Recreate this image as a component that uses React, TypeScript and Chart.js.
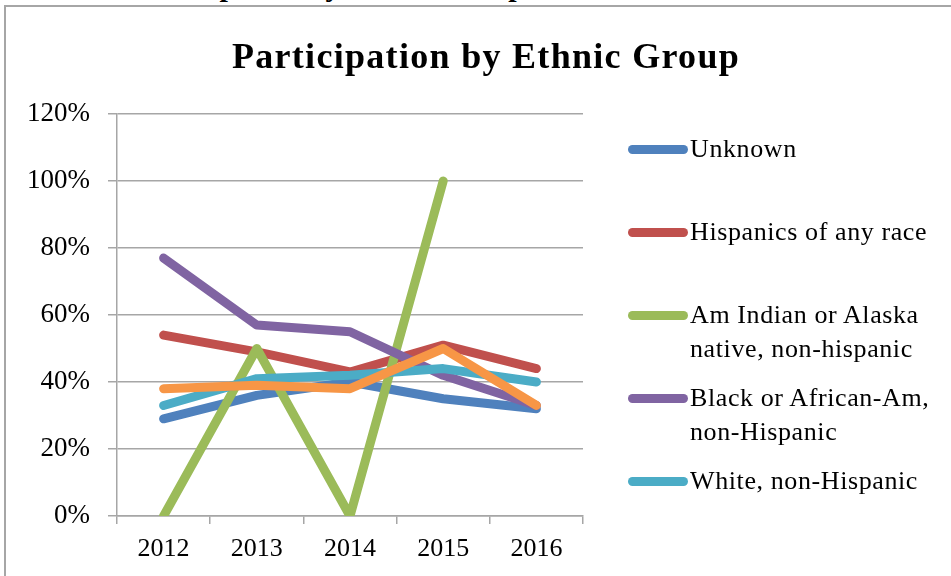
import { useEffect, useRef } from 'react';
import { Chart, ChartConfiguration, registerables } from 'chart.js';

Chart.register(...registerables);

const years = ['2012', '2013', '2014', '2015', '2016'];

const unknown = [0.29, 0.36, 0.4, 0.35, 0.32];
const hispanic = [0.54, 0.49, 0.43, 0.51, 0.44];
const amIndian = [0, 0.5, 0, 1.0, null];
const black = [0.77, 0.57, 0.55, 0.42, 0.33];
const white = [0.33, 0.41, 0.42, 0.44, 0.4];
const other = [0.38, 0.39, 0.38, 0.5, 0.33];

const seriesLabels = [
  'Unknown',
  'Hispanics of any race',
  'Am Indian or Alaska native, non-hispanic',
  'Black or African-Am, non-Hispanic',
  'White, non-Hispanic',
];

// legend text as it wraps in the picture
const legendLines = [
  ['Unknown'],
  ['Hispanics of any race'],
  ['Am Indian or Alaska', 'native, non-hispanic'],
  ['Black or African-Am,', 'non-Hispanic'],
  ['White, non-Hispanic'],
];

const colors = ['#4F81BD', '#C0504D', '#9BBB59', '#8064A2', '#4BACC6', '#F79646'];

const SERIF = '"Liberation Serif", "Times New Roman", serif';

const ChartCanvas = () => {
  const canvasRef = useRef<HTMLCanvasElement>(null);

  useEffect(() => {
    const values = [unknown, hispanic, amIndian, black, white, other];
    const config = {
      type: 'line',
      data: {
        labels: years,
        datasets: values.map((data, i) => ({
          label: seriesLabels[i] ?? '',
          data,
          // later series on top, like the original
          order: values.length - i,
          borderColor: colors[i],
          backgroundColor: colors[i],
          borderWidth: 9,
          borderCapStyle: 'round',
          borderJoinStyle: 'round',
          pointRadius: 0,
          tension: 0,
        })),
      },
      options: {
        responsive: false,
        animation: false,
        layout: { padding: { top: 114, right: 368, bottom: 0, left: 0 } },
        plugins: {
          legend: { display: false },
          tooltip: { enabled: false },
          title: { display: false },
        },
        scales: {
          x: {
            offset: true,
            grid: {
              offset: true,
              drawOnChartArea: false,
              drawTicks: true,
              tickLength: 8,
              color: '#a6a6a6',
              lineWidth: 1.5,
            },
            border: { color: '#a6a6a6', width: 1.5 },
            ticks: {
              color: '#000',
              padding: 10,
              font: { family: SERIF, size: 26 },
            },
            afterFit: (scale: any) => {
              scale.height = 60;
            },
          },
          y: {
            min: 0,
            max: 1.2,
            grid: {
              color: '#a6a6a6',
              lineWidth: 1.5,
              tickLength: 9,
            },
            border: { color: '#a6a6a6', width: 1.5 },
            ticks: {
              stepSize: 0.2,
              padding: 18,
              color: '#000',
              font: { family: SERIF, size: 27 },
              callback: (v: any) => `${Math.round(Number(v) * 100)}%`,
            },
            afterFit: (scale: any) => {
              scale.width = 117;
            },
          },
        },
      },
    } as ChartConfiguration;

    const chart = new Chart(canvasRef.current as HTMLCanvasElement, config);
    return () => {
      chart.destroy();
    };
  }, []);

  return (
    <canvas
      ref={canvasRef}
      width={951}
      height={576}
      style={{ position: 'absolute', left: 0, top: 0 }}
    />
  );
};

const markerTops = [149, 232, 315, 398, 481];

const App = () => {
  return (
    <div
      style={{
        position: 'relative',
        width: 951,
        height: 576,
        overflow: 'hidden',
        background: '#fff',
        fontFamily: SERIF,
      }}
    >
      <style>{'body{margin:0}'}</style>
      {/* heading of the page above, cut off by the picture */}
      <div
        style={{
          position: 'absolute',
          left: 0,
          top: 0,
          width: 951,
          height: 6,
          overflow: 'hidden',
        }}
      >
        <div
          style={{
            position: 'absolute',
            left: 133,
            top: -29,
            fontSize: 30,
            lineHeight: '30px',
            fontWeight: 'bold',
            whiteSpace: 'nowrap',
          }}
        >
          Participation by Ethnic Group
        </div>
      </div>
      <div
        style={{
          position: 'absolute',
          left: 4,
          top: 5,
          width: 1200,
          height: 1200,
          borderLeft: '2px solid #a6a6a6',
          borderTop: '2px solid #a6a6a6',
        }}
      />
      <ChartCanvas />
      <div
        style={{
          position: 'absolute',
          left: 0,
          width: 972,
          top: 36,
          textAlign: 'center',
          fontSize: 36,
          lineHeight: '40px',
          fontWeight: 'bold',
          letterSpacing: 1.3,
          whiteSpace: 'nowrap',
        }}
      >
        Participation by Ethnic Group
      </div>
      {legendLines.map((lines, i) => (
        <div key={i}>
          <div
            style={{
              position: 'absolute',
              left: 628,
              top: markerTops[i] - 4,
              width: 60,
              height: 9,
              borderRadius: 4.5,
              background: colors[i],
            }}
          />
          <div
            style={{
              position: 'absolute',
              left: 690,
              top: markerTops[i] - 17,
              fontSize: 26,
              lineHeight: '34px',
              letterSpacing: 0.6,
              whiteSpace: 'nowrap',
              color: '#000',
            }}
          >
            {lines.map((l, j) => (
              <div key={j}>{l}</div>
            ))}
          </div>
        </div>
      ))}
    </div>
  );
};

export default App;
